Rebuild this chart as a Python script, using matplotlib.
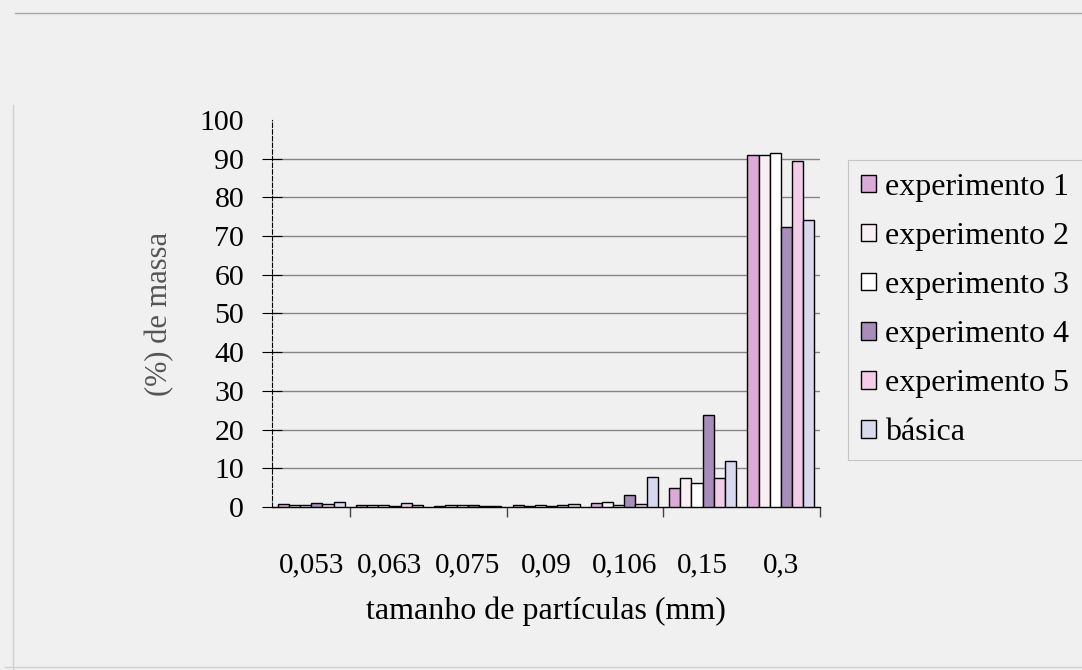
import numpy as np
import matplotlib.pyplot as plt
from matplotlib.lines import Line2D

plt.rcParams['font.family'] = ['Liberation Serif', 'DejaVu Serif']

# classes de tamanho (mm) e % de massa retida em cada experimento
tamanhos = ['0,053', '0,063', '0,075', '0,09', '0,106', '0,15', '0,3']
exp1 = [0.8, 0.4, 0.3, 0.4, 1.0, 4.8, 91.0]
exp2 = [0.6, 0.5, 0.4, 0.3, 1.2, 7.4, 91.0]
exp3 = [0.4, 0.5, 0.4, 0.5, 0.6, 6.1, 91.5]
exp4 = [1.0, 0.3, 0.6, 0.3, 3.1, 23.8, 72.4]
exp5 = [0.8, 1.0, 0.3, 0.6, 0.8, 7.4, 89.4]
basica = [1.3, 0.4, 0.3, 0.8, 7.8, 12.0, 74.2]

series = [exp1, exp2, exp3, exp4, exp5, basica]
nomes = ['experimento 1', 'experimento 2', 'experimento 3',
         'experimento 4', 'experimento 5', 'básica']
cores = ['#dcaad6', '#f8eef4', '#ffffff', '#a88cba', '#f2cce8', '#d8d8ee']

fundo = '#f0f0f0'
fig = plt.figure(figsize=(10.82, 6.7), dpi=100, facecolor=fundo)
ax = fig.add_axes([0.2514, 0.2433, 0.5065, 0.5776], facecolor=fundo)

x = np.arange(len(tamanhos))
w = 0.1427
for i, (vals, nome, cor) in enumerate(zip(series, nomes, cores)):
    ax.bar(x - 2.5 * w + i * w, vals, w, color=cor, edgecolor='black',
           linewidth=1.0, label=nome, zorder=3)

ax.set_xlim(-0.5, len(tamanhos) - 0.5)
ax.set_ylim(0, 100)
yt = np.arange(0, 101, 10)
ax.set_yticks(yt)
for v in yt[1:-1]:
    ax.axhline(v, color='#858585', linewidth=1.0, zorder=1)

ax.set_xticks(x)
ax.set_xticklabels(tamanhos)
ax.set_xticks(np.arange(0.5, len(tamanhos), 2), minor=True)
ax.tick_params(axis='x', which='major', length=0, pad=33, labelsize=21)
ax.tick_params(axis='x', which='minor', length=7, direction='out',
               color='#444444', width=1)
ax.tick_params(axis='y', length=14, direction='inout', pad=13,
               labelsize=21.5, width=0.8)
ax.yaxis.get_major_ticks()[-1].tick1line.set_visible(False)

for s in ['top', 'right']:
    ax.spines[s].set_visible(False)
ax.spines['left'].set_linestyle((0, (4, 2)))
ax.spines['left'].set_linewidth(0.8)
ax.spines['bottom'].set_linewidth(1.0)

ax.set_xlabel('tamanho de partículas (mm)', fontsize=23, labelpad=13)
ax.set_ylabel('(%) de massa', fontsize=22, color='#555555')
ax.yaxis.set_label_coords(-0.178, 0.5)

leg = ax.legend(loc='upper left', bbox_to_anchor=(848 / 1082, 1 - 160 / 670),
                bbox_transform=fig.transFigure, fontsize=23, frameon=True,
                fancybox=False, edgecolor='#bbbbbb', facecolor=fundo,
                handlelength=0.47, handleheight=0.47, handletextpad=0.3,
                labelspacing=0.63, borderpad=0.4, borderaxespad=0)
leg.get_frame().set_linewidth(0.8)

# moldura da área do gráfico
fig.add_artist(Line2D([15 / 1082, 1.0], [1 - 13 / 670] * 2, color='#a8a8a8', lw=1))
fig.add_artist(Line2D([13 / 1082] * 2, [0.0, 1 - 105 / 670], color='#d0d0d0', lw=1))
fig.add_artist(Line2D([0.005, 1.0], [3 / 670] * 2, color='#d0d0d0', lw=1))

fig.savefig('out.png', dpi=100, facecolor=fundo)
